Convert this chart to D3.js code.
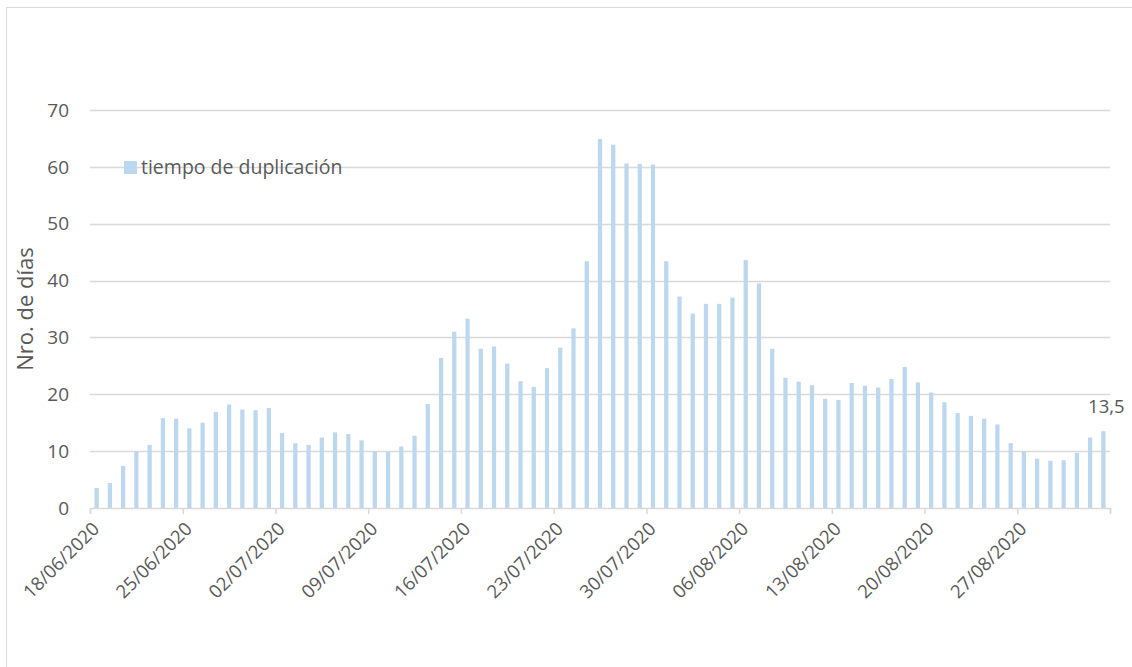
<!DOCTYPE html>
<html>
<head>
<meta charset="utf-8">
<script src="https://cdn.jsdelivr.net/npm/d3@7"></script>
<style>
  body { margin: 0; background: #fff; }
  text { font-family: "Open Sans", "Noto Sans", sans-serif; fill: #595959; }
</style>
</head>
<body>
<div class="container"></div>
<script>
const width = 1132;
const height = 667;

const dates = [
  '18/06/2020','19/06/2020','20/06/2020','21/06/2020','22/06/2020','23/06/2020','24/06/2020',
  '25/06/2020','26/06/2020','27/06/2020','28/06/2020','29/06/2020','30/06/2020','01/07/2020',
  '02/07/2020','03/07/2020','04/07/2020','05/07/2020','06/07/2020','07/07/2020','08/07/2020',
  '09/07/2020','10/07/2020','11/07/2020','12/07/2020','13/07/2020','14/07/2020','15/07/2020',
  '16/07/2020','17/07/2020','18/07/2020','19/07/2020','20/07/2020','21/07/2020','22/07/2020',
  '23/07/2020','24/07/2020','25/07/2020','26/07/2020','27/07/2020','28/07/2020','29/07/2020',
  '30/07/2020','31/07/2020','01/08/2020','02/08/2020','03/08/2020','04/08/2020','05/08/2020',
  '06/08/2020','07/08/2020','08/08/2020','09/08/2020','10/08/2020','11/08/2020','12/08/2020',
  '13/08/2020','14/08/2020','15/08/2020','16/08/2020','17/08/2020','18/08/2020','19/08/2020',
  '20/08/2020','21/08/2020','22/08/2020','23/08/2020','24/08/2020','25/08/2020','26/08/2020',
  '27/08/2020','28/08/2020','29/08/2020','30/08/2020','31/08/2020','01/09/2020','02/09/2020'
];

// tiempo de duplicación (días)
const values = [
  3.5, 4.4, 7.4, 10.0, 11.1, 15.8, 15.7, 14.0, 15.0, 16.9,
  18.2, 17.3, 17.2, 17.6, 13.2, 11.4, 11.1, 12.4, 13.3, 13.0,
  11.9, 10.0, 9.9, 10.8, 12.7, 18.3, 26.4, 31.0, 33.3, 28.0,
  28.4, 25.4, 22.3, 21.3, 24.6, 28.2, 31.6, 43.4, 64.9, 63.9,
  60.6, 60.5, 60.4, 43.4, 37.2, 34.2, 35.9, 35.9, 37.0, 43.6,
  39.5, 28.0, 22.9, 22.2, 21.6, 19.2, 19.0, 22.0, 21.5, 21.2,
  22.7, 24.8, 22.1, 20.3, 18.6, 16.7, 16.2, 15.7, 14.7, 11.4,
  10.0, 8.7, 8.3, 8.4, 9.7, 12.4, 13.5
];

const tickLabels = ['18/06/2020','25/06/2020','02/07/2020','09/07/2020','16/07/2020','23/07/2020',
  '30/07/2020','06/08/2020','13/08/2020','20/08/2020','27/08/2020'];
const yTicks = [0, 10, 20, 30, 40, 50, 60, 70];
const seriesName = 'tiempo de duplicación';
const yTitle = 'Nro. de días';

const parse = d3.timeParse('%d/%m/%Y');
const plotLeft = 90, plotRight = 1110, plotTop = 110, plotBottom = 508;

const svg = d3.select('.container')
  .append('svg')
  .attr('width', width)
  .attr('height', height);

// chart border
svg.append('rect')
  .attr('x', 6.5).attr('y', 7.5)
  .attr('width', 1140).attr('height', 700)
  .attr('fill', 'none')
  .attr('stroke', '#d9d9d9');

const xBand = d3.scaleBand()
  .domain(dates)
  .range([plotLeft, plotRight])
  .paddingInner(0.68)
  .paddingOuter(0.34);

const xTime = d3.scaleTime()
  .domain([parse(dates[0]), d3.timeDay.offset(parse(dates[dates.length - 1]), 1)])
  .range([plotLeft, plotRight]);

const y = d3.scaleLinear()
  .domain([0, 70])
  .range([plotBottom, plotTop]);

// gridlines
svg.append('g')
  .selectAll('line')
  .data(yTicks.slice(1))
  .enter()
  .append('line')
  .attr('x1', plotLeft).attr('x2', plotRight)
  .attr('y1', d => Math.round(y(d)) + 0.5)
  .attr('y2', d => Math.round(y(d)) + 0.5)
  .attr('stroke', '#d9d9d9')
  .attr('stroke-width', 1.3);

// y labels
svg.append('g')
  .selectAll('text')
  .data(yTicks)
  .enter()
  .append('text')
  .attr('x', 69)
  .attr('y', d => y(d))
  .attr('dy', '0.35em')
  .attr('text-anchor', 'end')
  .style('font-size', '19px')
  .text(d => d);

// bars
svg.append('g')
  .selectAll('rect')
  .data(values)
  .enter()
  .append('rect')
  .attr('x', (d, i) => xBand(dates[i]))
  .attr('y', d => y(d))
  .attr('width', xBand.bandwidth())
  .attr('height', d => plotBottom - y(d))
  .attr('fill', '#bdd7ee');

// x axis
const tickDates = tickLabels.map(parse).concat([xTime.domain()[1]]);
const xAxis = d3.axisBottom(xTime)
  .tickValues(tickDates)
  .tickSize(6)
  .tickFormat((d, i) => tickLabels[i] || '');

const gx = svg.append('g')
  .attr('transform', `translate(0,${plotBottom})`)
  .call(xAxis);
gx.select('.domain').attr('stroke', '#d9d9d9').attr('stroke-width', 1.5);
gx.selectAll('.tick line').attr('stroke', '#d9d9d9').attr('stroke-width', 1.5);
gx.selectAll('.tick text')
  .attr('fill', '#595959')
  .style('font-size', '18.5px')
  .style('font-family', '"Open Sans", "Noto Sans", sans-serif')
  .attr('text-anchor', 'end')
  .attr('dy', 0)
  .attr('y', 0)
  .attr('transform', 'translate(10,22) rotate(-45)');

// data label on the last bar
const last = values.length - 1;
svg.append('text')
  .attr('x', xBand(dates[last]) + xBand.bandwidth() / 2 + 3)
  .attr('y', y(values[last]) - 18)
  .attr('text-anchor', 'middle')
  .style('font-size', '18.5px')
  .text(String(values[last]).replace('.', ','));

// y title
svg.append('text')
  .attr('transform', `translate(33,${(plotTop + plotBottom) / 2}) rotate(-90)`)
  .attr('text-anchor', 'middle')
  .style('font-size', '22px')
  .text(yTitle);

// legend
const legend = svg.append('g').attr('transform', 'translate(124,161)');
legend.append('rect')
  .attr('width', 13).attr('height', 13)
  .attr('fill', '#bdd7ee');
legend.append('text')
  .attr('x', 17).attr('y', 6.5)
  .attr('dy', '0.35em')
  .style('font-size', '19.5px')
  .text(seriesName);
</script>
</body>
</html>
